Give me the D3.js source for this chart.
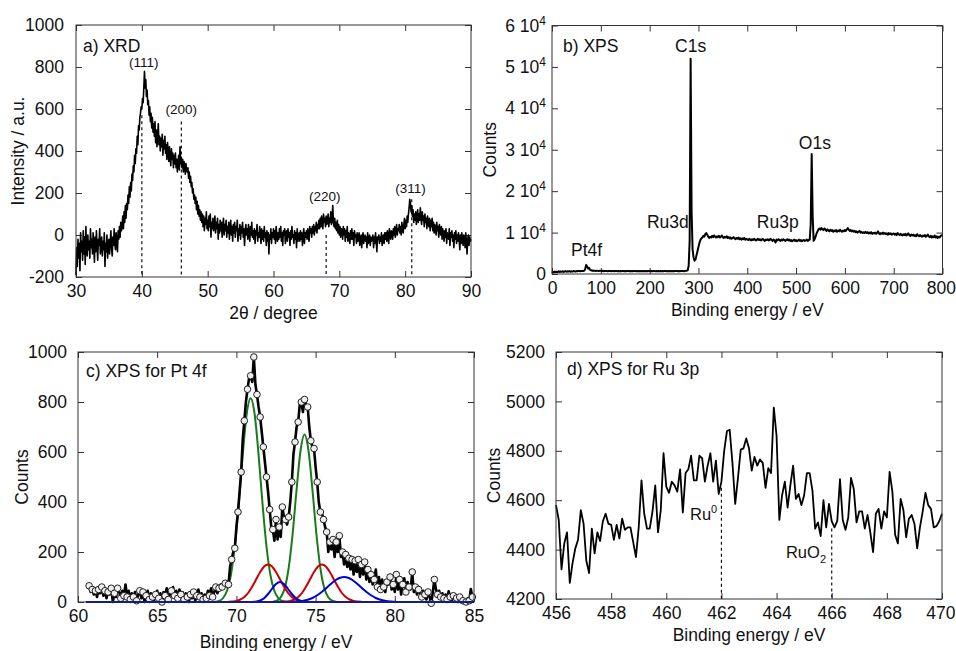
<!DOCTYPE html>
<html>
<head>
<meta charset="utf-8">
<script src="https://cdn.jsdelivr.net/npm/d3@7"></script>
<style>
  body { margin: 0; background: #fff; }
  svg text { font-family: "Liberation Sans", Arial, sans-serif; fill: #111; }
</style>
</head>
<body>
<svg id="chart" width="956" height="651"></svg>
<script>
// ---------- data ----------
// a) XRD, 2theta from 30 to 90 step 0.1
const xrdStart = 30, xrdStep = 0.1;
const xrdIntensity = [
  -190, -60, -150, -20, -110, -40, -170, 10, -80, -30,
  -120, 20, -90, -10, -140, 40, -60, -100, 0, -70,
  -30, -110, 30, -60, -20, -90, 10, -50, -130, -10,
  -80, 20, -60, -120, -20, -50, 30, -90, -40, -10,
  -100, -30, -70, 10, -150, -40, -80, 0, -110, -50,
  -20, -90, -40, 20, -60, -100, -10, -50, 30, -40,
  -70, 10, -30, -80, 20, -20, 40, -10, 60, 20,
  40, 90, 30, 110, 60, 140, 80, 150, 120, 190,
  150, 230, 180, 250, 210, 290, 260, 330, 300, 380,
  340, 410, 390, 470, 430, 520, 500, 560, 580, 610,
  600, 650, 630, 700, 780, 700, 740, 660, 690, 620,
  640, 570, 610, 540, 580, 510, 560, 490, 530, 470,
  540, 440, 500, 420, 480, 530, 430, 470, 400, 460,
  420, 480, 380, 450, 410, 470, 390, 430, 360, 440,
  400, 350, 420, 370, 330, 410, 360, 390, 320, 380,
  340, 390, 320, 360, 300, 350, 380, 310, 420, 340,
  370, 320, 360, 300, 350, 330, 290, 340, 310, 300,
  320, 270, 300, 250, 280, 230, 250, 200, 220, 170,
  190, 150, 180, 120, 160, 100, 140, 90, 120, 70,
  110, 60, 100, 40, 90, 20, 80, 50, 110, 30,
  70, 20, 90, 40, 100, -10, 60, 30, 80, 20,
  50, 90, 10, 60, 30, 80, -20, 50, 10, 70,
  20, 60, -10, 40, 80, 0, 50, 20, 70, -10,
  40, 10, 60, -20, 30, 70, 0, 40, -30, 50,
  10, 60, -10, 40, 20, 70, -30, 30, 0, 50,
  -20, 40, 10, 60, -10, 30, -50, 20, 50, 0,
  30, -20, 50, 10, -30, 40, 0, 60, -10, 20,
  -20, 30, -40, 20, 0, 50, -30, 10, -10, 40,
  0, -40, 30, -20, 20, -30, 40, -10, 10, -50,
  20, -30, 10, -90, 0, -20, 30, -40, 10, -10,
  30, -20, 20, -40, 40, 0, -30, 10, -20, 30,
  -10, 40, -30, 10, -50, 20, 0, 30, -40, 10,
  20, -30, 30, -10, 10, -50, 20, -20, 40, -10,
  0, -40, 20, -20, 10, -60, 30, -30, 0, 10,
  -30, 20, -20, 10, -50, 0, 30, -40, 10, -10,
  20, -20, 30, 0, -30, 40, 10, 30, -10, 40,
  10, 50, 0, 40, 20, 60, 10, 50, 30, 70,
  30, 80, 40, 90, 50, 30, 100, 60, 80, 40,
  90, 50, 70, 100, 40, 80, 60, 110, 50, 70,
  140, 60, 40, 80, 30, 60, 20, 70, 10, 50,
  0, 40, -10, 30, 20, -20, 40, 0, 30, -30,
  20, -10, 40, -30, 10, 0, -40, 20, -20, 30,
  -20, 10, -50, 20, -10, 0, -40, 10, -30, -10,
  10, -50, -20, 0, -60, -10, 10, -40, -20, 0,
  -30, -10, -60, 10, -40, -20, 0, -50, -10, -30,
  -20, 0, -60, -10, -40, 10, -30, -80, -10, -20,
  0, -40, -10, -30, 10, -50, -20, 0, -40, 10,
  -20, 10, -30, 20, -10, -40, 30, 0, -20, 20,
  10, -20, 30, 0, 40, -10, 20, 50, 0, 30,
  20, 50, 10, 40, 0, 60, 30, 10, 50, 80,
  30, 70, 40, 90, 60, 100, 130, 170, 150, 110,
  140, 90, 120, 60, 100, 70, 110, 50, 90, 120,
  60, 100, 70, 130, 80, 50, 110, 70, 90, 40,
  100, 60, 80, 30, 90, 60, 40, 80, 20, 70,
  40, 80, 20, 60, 10, 50, 30, 0, 60, 20,
  40, -10, 50, 20, 0, 40, -20, 30, 10, -30,
  20, -10, 30, -40, 10, 0, -20, 30, -50, 10,
  -10, 20, -30, 0, -60, 10, -20, 20, -40, 0,
  -30, 10, -20, -70, 0, -40, 10, -20, -50, 0,
  -10, -60, 10, -30, -90, -20, 0, -50, -10, -30,
  -20
];
const xrdPeakNames = ["(111)", "(200)", "(220)", "(311)"];
const xrdPeakAngle = [40, 46, 68, 81];
const xrdPeakTop = [570, 540, 0, 170];

// b) XPS survey, binding energy 0..800 eV step 2
const surveyStart = 0, surveyStep = 2;
const surveyCounts = [
  300, 500, 400, 600, 450, 550, 500, 650, 500, 600,
  550, 650, 500, 600, 700, 550, 650, 600, 700, 550,
  650, 600, 700, 650, 600, 700, 650, 750, 700, 650,
  700, 750, 700, 800, 1200, 2200, 1800, 1300, 1500, 1000,
  900, 800, 850, 750, 800, 700, 800, 750, 700, 800,
  750, 700, 800, 650, 750, 700, 750, 650, 700, 750,
  700, 650, 750, 700, 650, 700, 750, 650, 700, 650,
  700, 650, 750, 700, 650, 700, 650, 700, 750, 650,
  700, 650, 700, 650, 700, 750, 650, 700, 650, 700,
  650, 700, 650, 700, 650, 700, 650, 700, 650, 700,
  700, 650, 700, 650, 700, 750, 650, 700, 650, 700,
  650, 700, 650, 700, 650, 700, 750, 650, 700, 650,
  700, 650, 700, 650, 700, 650, 700, 750, 700, 650,
  700, 650, 700, 750, 700, 650, 700, 750, 800, 900,
  2000, 8000, 52000, 15000, 6000, 4000, 3200, 3500, 4500, 5500,
  6500, 7500, 8200, 8600, 8800, 9200, 9000, 9600, 9900, 9500,
  9000, 8700, 9000, 8800, 9200, 8900, 9300, 9000, 8800, 9100,
  8900, 9200, 8800, 9000, 9300, 8900, 8700, 9000, 8800, 9100,
  8700, 8900, 8600, 8800, 8500, 8700, 8900, 8600, 8400, 8700,
  8500, 8800, 8400, 8600, 8300, 8600, 8400, 8700, 8300, 8500,
  8400, 8200, 8500, 8300, 8100, 8400, 8200, 8500, 8300, 8100,
  8300, 8500, 8200, 8400, 8100, 8300, 8500, 8200, 8000, 8300,
  8200, 8400, 8100, 8300, 8500, 8200, 8000, 8300, 8100, 7600,
  8300, 8100, 8400, 8200, 8000, 8300, 8100, 8400, 8200, 8000,
  8200, 8400, 8100, 8300, 8000, 8200, 7900, 8100, 8300, 8000,
  8200, 7900, 8100, 8300, 8000, 8200, 7900, 8100, 8200, 8000,
  8100, 8300, 8000, 8200, 8300, 12000, 29000, 14000, 8000, 8400,
  9000, 9800, 10300, 10800, 11000, 10700, 11100, 10800, 10600, 11000,
  10700, 10400, 10800, 10500, 10300, 10700, 10400, 10600, 10200, 10500,
  10300, 10600, 10200, 10500, 10300, 10700, 10400, 10200, 10500, 10300,
  10600, 10400, 10800, 11100, 10700, 10400, 10600, 10300, 10500, 10200,
  10400, 10100, 10300, 10000, 10200, 10400, 10000, 10200, 9900, 10100,
  9900, 10200, 9900, 10100, 9800, 10000, 9800, 10100, 9700, 9900,
  9800, 10000, 9700, 9900, 10300, 9800, 9600, 9900, 9700, 10000,
  9700, 9900, 9600, 9800, 9500, 9900, 9600, 9800, 9500, 9700,
  9800, 9500, 9700, 9400, 9900, 9600, 9400, 9700, 9500, 9300,
  9600, 9400, 9700, 9300, 9500, 9800, 9400, 9200, 9500, 9300,
  9500, 9200, 9400, 9100, 9600, 9300, 9100, 9400, 9200, 9000,
  9300, 9100, 9400, 9000, 9200, 9500, 9100, 8900, 9200, 8800,
  9100, 8900, 9300, 8800, 9100, 8700, 9000, 8800, 9200, 9300,
  9500
];
const surveyNames = ["C1s", "O1s", "Ru3d", "Ru3p", "Pt4f"];

// c) Pt 4f, binding energy 60.6..85.0 step 0.1
const ptStart = 60.6, ptStep = 0.1;
const ptCounts = [
  55, 65, 40, 50,
  30, 45, 20, 50, 35, 60, 25, 45, 15, 40,
  30, 55, 0, 35, 20, 55, 40, 15, 45, 25,
  70, 20, 45, 10, 35, 20, 40, 5, 30, 45,
  15, 40, 0, 25, 45, 10, 35, 20, 5, 30,
  45, 15, 35, 0, 40, 25, 55, 10, 30, 45,
  60, 25, 45, 15, 50, 30, 40, 10, 35, 20,
  0, 30, 15, 40, 5, 25, 50, 20, 35, 10,
  30, 15, 45, 25, 55, 20, 40, 60, 35, 55,
  70, 60, 80, 75, 62, 70, 140, 170, 200, 215,
  300, 360, 440, 520, 650, 725, 800, 851, 895, 905,
  880, 980, 870, 830, 780, 740, 680, 620, 560, 500,
  440, 370, 300, 290, 245, 330, 250, 300, 260, 380,
  340, 330, 310, 340, 400, 480, 590, 640, 700, 720,
  790, 800, 760, 810, 790, 780, 700, 645, 620, 614,
  540, 480, 400, 360, 355, 330, 300, 280, 200, 240,
  210, 250, 180, 240, 200, 265, 180, 200, 150, 190,
  140, 175, 130, 170, 110, 165, 120, 170, 100, 150,
  110, 160, 90, 130, 80, 110, 70, 90, 130, 60,
  100, 50, 90, 60, 40, 80, 70, 100, 50, 70,
  40, 110, 50, 90, 30, 70, 95, 40, 80, 60,
  50, 120, 40, 60, 30, 50, 35, 20, 45, 30,
  10, 40, 20, -5, 40, 90, 50, 30, 45, 20,
  35, 15, 30, 10, 43, 20, 5, 25, 10, 16,
  0, 20, 16, 5, 10, 0, 15, 5, 52, 20,
  10
];
// fitted components, step 0.25 eV from their own start energy
const fitStep = 0.25;
const fitStart = [68.65, 72.3, 69.5, 72.9, 71.0, 73.55];
const fitPt0a = [1, 4, 15, 44, 107, 222, 392, 589, 752, 815, 752, 589, 392, 222, 107, 44, 15, 4, 1];
const fitPt0b = [1, 5, 19, 55, 136, 273, 450, 606, 670, 606, 450, 273, 136, 55, 19, 5, 1];
const fitPtOxA = [1, 2, 4, 10, 20, 37, 62, 91, 120, 142, 150, 142, 120, 91, 62, 37, 20, 10, 4, 2, 1];
const fitPtOxB = [1, 2, 4, 10, 20, 37, 62, 91, 120, 142, 150, 142, 120, 91, 62, 37, 20, 10, 4, 2, 1];
const fitPt4A = [0, 2, 6, 15, 32, 53, 72, 80, 72, 53, 32, 15, 6, 2, 0];
const fitPt4B = [1, 2, 3, 6, 10, 16, 25, 36, 49, 63, 77, 89, 97, 100, 97, 89, 77, 63, 49, 36, 25, 16, 10, 6, 3, 2, 1];
const fitColors = ["#1a7a1a", "#1a7a1a", "#cc0000", "#cc0000", "#0000dd", "#0000dd"];

// d) Ru 3p, binding energy 456..470 step 0.1
const ruStart = 456, ruStep = 0.1;
const ruCounts = [
  4580, 4520, 4320, 4425, 4470, 4265, 4345, 4405, 4440, 4560,
  4505, 4355, 4305, 4485, 4385, 4470, 4435, 4515, 4545, 4505,
  4500, 4440, 4500, 4445, 4525, 4480, 4490, 4490, 4430, 4370,
  4490, 4680, 4545, 4485, 4485, 4555, 4660, 4470, 4560, 4790,
  4655, 4630, 4675, 4660, 4635, 4725, 4550, 4710, 4725, 4780,
  4680, 4680, 4780, 4770, 4675, 4740, 4790, 4675, 4760, 4625,
  4675, 4800, 4880, 4885, 4750, 4585, 4690, 4805, 4810, 4850,
  4810, 4720, 4775, 4740, 4765, 4750, 4650, 4730, 4710, 4975,
  4860, 4520, 4620, 4675, 4570, 4660, 4740, 4605, 4625, 4580,
  4620, 4710, 4710, 4640, 4485, 4510, 4455, 4600, 4490, 4585,
  4515, 4490, 4515, 4685, 4520, 4480, 4530, 4690, 4645, 4510,
  4555, 4555, 4485, 4540, 4470, 4390, 4545, 4565, 4485, 4555,
  4530, 4715, 4635, 4460, 4425, 4605, 4560, 4450, 4525, 4540,
  4505, 4405, 4490, 4555, 4630, 4580, 4565, 4490, 4495, 4515,
  4545
];
const ruStateNames = ["Ru", "RuO"];
const ruStateEnergy = [462, 466];
const ruStateTop = [4650, 4485];

// ---------- drawing ----------
const FONT = "Liberation Sans, Arial, sans-serif";
const svg = d3.select("#chart");

function series(start, step, values) {
  return values.map((v, i) => [start + i * step, v]);
}

function makePanel(box, xDomain, yDomain, xTicks, yTicks, yPad, yFormat) {
  const g = svg.append("g").attr("transform", `translate(${box.x},${box.y})`);
  const x = d3.scaleLinear().domain(xDomain).range([0, box.w]);
  const y = d3.scaleLinear().domain(yDomain).range([box.h, 0]);
  const axes = g.append("g");
  const bottom = axes.append("g").attr("transform", `translate(0,${box.h})`)
    .call(d3.axisBottom(x).tickValues(xTicks).tickSize(-6).tickPadding(8).tickFormat(d => String(d)));
  axes.append("g")
    .call(d3.axisTop(x).tickValues(xTicks).tickSize(-6).tickFormat(""));
  const left = axes.append("g")
    .call(d3.axisLeft(y).tickValues(yTicks).tickSize(-6).tickPadding(yPad).tickFormat(yFormat || (d => String(d))));
  axes.append("g").attr("transform", `translate(${box.w},0)`)
    .call(d3.axisRight(y).tickValues(yTicks).tickSize(-6).tickFormat(""));
  axes.selectAll(".domain").remove();
  axes.selectAll(".tick line").attr("stroke", "#333");
  axes.selectAll(".tick text").attr("font-size", 17.5).attr("font-family", FONT).attr("fill", "#111");
  const plot = g.append("g");
  g.append("rect").attr("width", box.w).attr("height", box.h)
    .attr("fill", "none").attr("stroke", "#333").attr("stroke-width", 1);
  return { g, x, y, plot, left, bottom, box };
}

function titles(p, xTitle, yTitle, xTitleY, yTitleX, tag, tagX, tagY) {
  p.g.append("text").attr("x", p.box.w / 2).attr("y", xTitleY)
    .attr("text-anchor", "middle").attr("font-size", 17.5).text(xTitle);
  p.g.append("text")
    .attr("transform", `translate(${yTitleX},${p.box.h / 2}) rotate(-90)`)
    .attr("text-anchor", "middle").attr("dy", "0.35em").attr("font-size", 17.5).text(yTitle);
  p.g.append("text").attr("x", tagX).attr("y", tagY).attr("font-size", 17.5).text(tag);
}

function dashed(p, xv, y0, y1) {
  p.plot.append("line")
    .attr("x1", p.x(xv)).attr("x2", p.x(xv))
    .attr("y1", p.y(y0)).attr("y2", p.y(y1))
    .attr("stroke", "#111").attr("stroke-width", 1.2).attr("stroke-dasharray", "3,3");
}

// ----- a) XRD -----
const pa = makePanel({ x: 76, y: 25, w: 395, h: 252 }, [30, 90], [-200, 1000],
  d3.range(30, 91, 10), d3.range(-200, 1001, 200), 12);
titles(pa, "2\u03B8 / degree", "Intensity / a.u.", 294, -58, "a) XRD", 7, 27);
xrdPeakAngle.forEach((a, i) => dashed(pa, a, xrdPeakTop[i], -200));
pa.plot.append("path")
  .datum(series(xrdStart, xrdStep, xrdIntensity))
  .attr("fill", "none").attr("stroke", "#000").attr("stroke-width", 1.6)
  .attr("stroke-linejoin", "round")
  .attr("d", d3.line().x(d => pa.x(d[0])).y(d => pa.y(d[1])));
const xrdLabelAt = [[40.3, 800], [46, 576], [67.8, 162], [80.8, 200]];
xrdPeakNames.forEach((n, i) => {
  pa.plot.append("text").attr("x", pa.x(xrdLabelAt[i][0])).attr("y", pa.y(xrdLabelAt[i][1]))
    .attr("text-anchor", "middle").attr("font-size", 13.5).text(n);
});

// ----- b) XPS survey -----
const pb = makePanel({ x: 552, y: 25.5, w: 390.5, h: 248.5 }, [0, 800], [0, 60000],
  d3.range(0, 801, 100), d3.range(0, 60001, 10000), 6);
pb.left.selectAll(".tick text").each(function (d) {
  const t = d3.select(this).text(d === 0 ? "0" : (d / 1e4) + " 10");
  if (d !== 0) t.append("tspan").attr("dy", -7).attr("font-size", 12).text("4");
});
// keep the last tick label inside the page
pb.bottom.selectAll(".tick text").filter(d => d === 800).attr("text-anchor", "end").attr("dx", 13);
titles(pb, "Binding energy / eV", "Counts", 290.5, -62, "b) XPS", 11, 26.5);
pb.plot.append("path")
  .datum(series(surveyStart, surveyStep, surveyCounts))
  .attr("fill", "none").attr("stroke", "#000").attr("stroke-width", 2)
  .attr("stroke-linejoin", "round")
  .attr("d", d3.line().x(d => pb.x(d[0])).y(d => pb.y(d[1])));
const surveyLabelAt = [[284, 53600, "middle"], [538.5, 30200, "middle"], [194.5, 11100, "start"],
  [419.7, 11100, "start"], [39, 4350, "start"]];
surveyNames.forEach((n, i) => {
  const a = surveyLabelAt[i];
  pb.plot.append("text").attr("x", pb.x(a[0])).attr("y", pb.y(a[1]))
    .attr("text-anchor", a[2]).attr("font-size", 17.5).text(n);
});

// ----- c) Pt 4f -----
const pc = makePanel({ x: 78, y: 352, w: 396, h: 250 }, [60, 85], [0, 1000],
  d3.range(60, 86, 5), d3.range(0, 1001, 200), 11);
titles(pc, "Binding energy / eV", "Counts", 296, -56, "c) XPS for Pt 4f", 8, 25);
const fitLine = d3.line().curve(d3.curveMonotoneX).x(d => pc.x(d[0])).y(d => pc.y(d[1]));
[fitPt0a, fitPt0b, fitPtOxA, fitPtOxB, fitPt4A, fitPt4B].forEach((vals, i) => {
  pc.plot.append("path").datum(series(fitStart[i], fitStep, vals))
    .attr("fill", "none").attr("stroke", fitColors[i]).attr("stroke-width", 2)
    .attr("d", fitLine);
});
const ptData = series(ptStart, ptStep, ptCounts);
pc.plot.append("path").datum(ptData)
  .attr("fill", "none").attr("stroke", "#000").attr("stroke-width", 2.6)
  .attr("stroke-linejoin", "round")
  .attr("d", d3.line().x(d => pc.x(d[0])).y(d => pc.y(d[1])));
pc.plot.selectAll("circle").data(ptData.filter((d, i) => i % 2 === 1))
  .join("circle")
  .attr("cx", d => pc.x(d[0])).attr("cy", d => pc.y(d[1])).attr("r", 3.3)
  .attr("fill", "#eee").attr("stroke", "#222").attr("stroke-width", 1);
pc.plot.append("line")
  .attr("x1", pc.x(60.5)).attr("x2", pc.x(85)).attr("y1", pc.y(0)).attr("y2", pc.y(0))
  .attr("stroke", "#0000dd").attr("stroke-width", 2);

// ----- d) Ru 3p -----
const pd = makePanel({ x: 556, y: 352, w: 386, h: 247 }, [456, 470], [4200, 5200],
  d3.range(456, 471, 2), d3.range(4200, 5201, 200), 11);
pd.bottom.selectAll(".tick text").filter(d => d === 470).attr("text-anchor", "end").attr("dx", 13);
titles(pd, "Binding energy / eV", "Counts", 289, -62, "d) XPS for Ru 3p", 11, 23);
ruStateEnergy.forEach((e, i) => dashed(pd, e, ruStateTop[i], 4200));
pd.plot.append("path")
  .datum(series(ruStart, ruStep, ruCounts))
  .attr("fill", "none").attr("stroke", "#000").attr("stroke-width", 1.8)
  .attr("stroke-linejoin", "round")
  .attr("d", d3.line().x(d => pd.x(d[0])).y(d => pd.y(d[1])));
const ruLabelAt = [[460.86, 4518, "0", -7], [464.34, 4365, "2", 5]];
ruStateNames.forEach((n, i) => {
  const a = ruLabelAt[i];
  const t = pd.plot.append("text").attr("x", pd.x(a[0])).attr("y", pd.y(a[1]))
    .attr("font-size", 16.5).text(n);
  t.append("tspan").attr("dy", a[3]).attr("font-size", 11).text(a[2]);
});
</script>
</body>
</html>
